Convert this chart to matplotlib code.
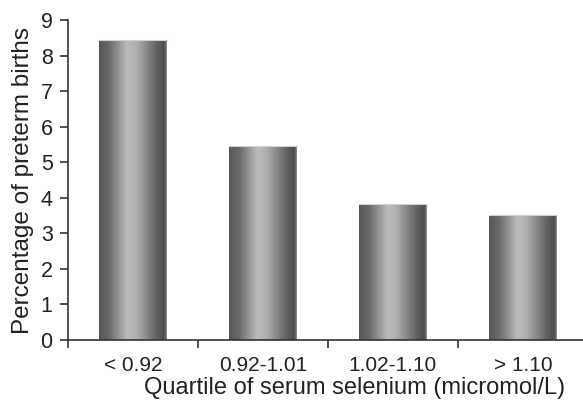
import numpy as np
import matplotlib
matplotlib.use("Agg")
import matplotlib.pyplot as plt
from matplotlib.colors import LinearSegmentedColormap

categories = ["< 0.92", "0.92-1.01", "1.02-1.10", "> 1.10"]
preterm_pct = [8.45, 5.45, 3.82, 3.50]
y_ticks = [0, 1, 2, 3, 4, 5, 6, 7, 8, 9]

plt.rcParams["font.family"] = ["Liberation Sans", "DejaVu Sans"]

fig = plt.figure(figsize=(5.83, 4.01), dpi=100)
ax = fig.add_axes([68 / 583, 1 - 339.7 / 401, 520 / 583, (339.7 - 20.3) / 401])

# cylinder-like horizontal shading across each bar
shade = LinearSegmentedColormap.from_list(
    "shade",
    [(0.0, "#575757"), (0.15, "#6a6a6a"), (0.42, "#bcbcbc"), (0.55, "#b0b0b0"),
     (0.85, "#626262"), (0.97, "#4c4c4c"), (1.0, "#9a9a9a")],
)
grad = np.linspace(0, 1, 256).reshape(1, -1)
width = 0.52
x = np.arange(len(categories))
bars = ax.bar(x, preterm_pct, width=width, color="none", edgecolor="none")
for b in bars:
    x0, w, h = b.get_x(), b.get_width(), b.get_height()
    ax.imshow(grad, cmap=shade, aspect="auto", extent=[x0, x0 + w, 0, h],
              interpolation="bicubic", zorder=2)
    ax.plot([x0, x0 + w], [h, h], color="#d0d0d0", lw=0.8, zorder=3)

ax.set_xlim(-0.5, len(categories) - 0.5)
ax.set_ylim(0, 9)
ax.set_yticks(y_ticks)
ax.set_xticks(x)
ax.set_xticklabels(categories)
ax.set_xticks(np.arange(len(categories) + 1) - 0.5, minor=True)
ax.tick_params(axis="x", which="major", length=0, pad=12, labelsize=15, colors="#222222")
ax.tick_params(axis="x", which="minor", length=6, width=1.2, color="#333333", direction="out")
ax.tick_params(axis="y", length=6, width=1.2, color="#333333", labelsize=15.5,
               labelcolor="#222222", pad=5)

for s in ["top", "right"]:
    ax.spines[s].set_visible(False)
for s in ["left", "bottom"]:
    ax.spines[s].set_linewidth(1.2)
    ax.spines[s].set_color("#333333")

ax.set_ylabel("Percentage of preterm births", fontsize=17.5, color="#222222", labelpad=5)
ax.set_xlabel("Quartile of serum selenium (micromol/L)", fontsize=17, color="#222222")
ax.xaxis.set_label_coords(0.552, -0.118)

fig.savefig("out.png", dpi=100)
